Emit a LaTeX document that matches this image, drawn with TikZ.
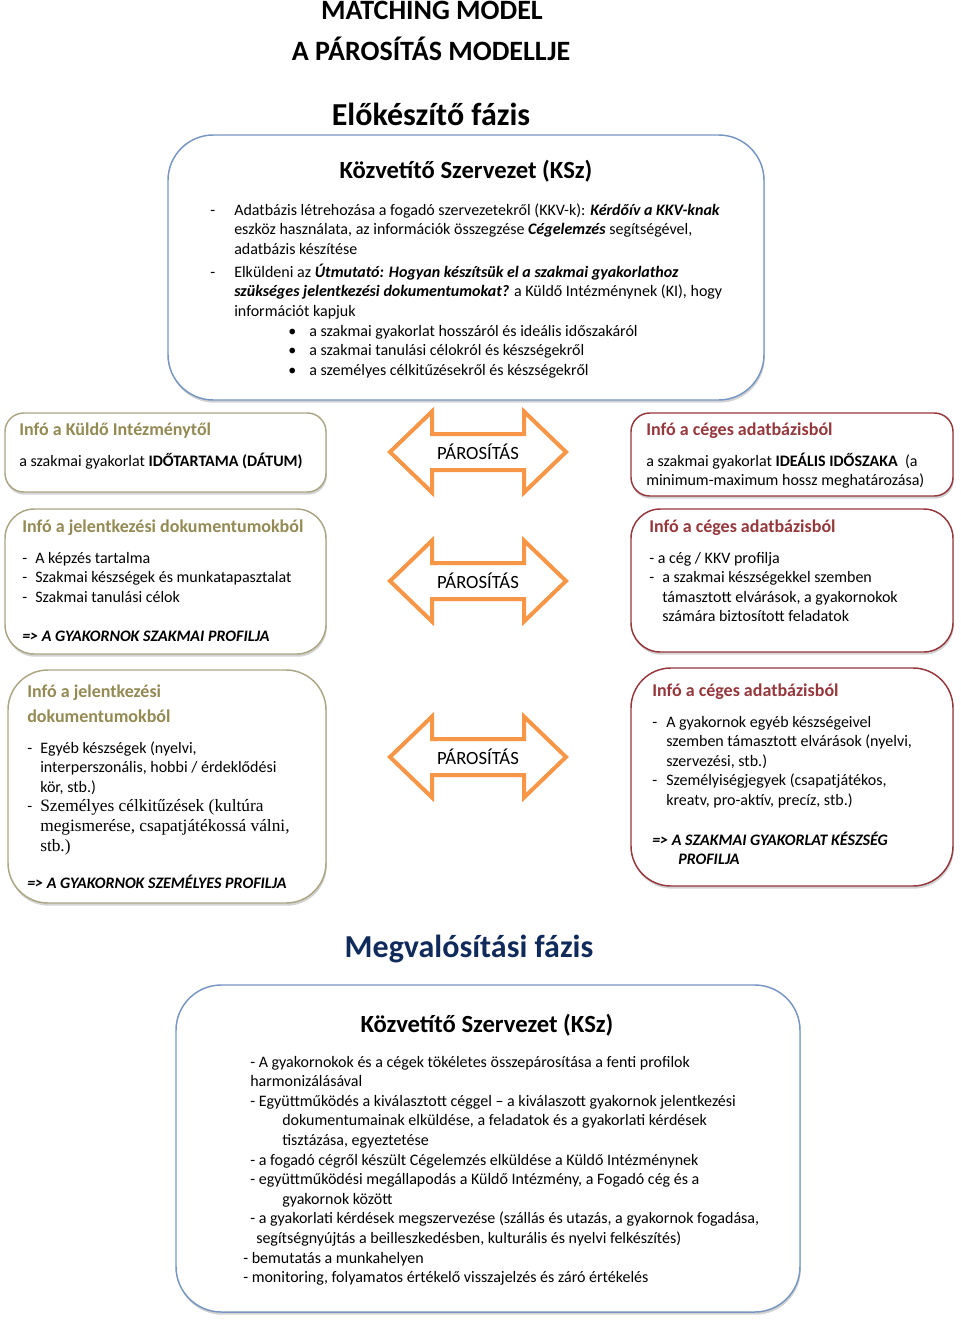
\documentclass[tikz,border=0pt]{standalone}
\usepackage{fontspec}
\setmainfont{Carlito}
\newfontfamily\serifpart{Liberation Serif}
\usetikzlibrary{shadows,fit}
\definecolor{kszblue}{RGB}{120,150,195}
\definecolor{olivetext}{RGB}{148,138,84}
\definecolor{oliveline}{RGB}{172,166,132}
\definecolor{redline}{RGB}{150,55,60}
\definecolor{matchorange}{RGB}{247,150,70}
\definecolor{phasenavy}{RGB}{16,42,92}
\newcommand{\bodysize}{\fontsize{12}{14.7}\selectfont}
\newcommand{\txtlines}[1]{\begin{tabular}[t]{@{}l@{}}#1\end{tabular}}
\newcommand{\dsh}[1]{\makebox[#1][l]{-}}
\tikzset{
  infobox/.style={rounded corners=#1, line width=1.1pt, fill=white, inner sep=0pt,
    drop shadow={shadow xshift=0.6pt, shadow yshift=-2pt, opacity=0.35}},
  kszbox/.style={infobox=34pt, draw=kszblue},
  studbox/.style={infobox=#1, draw=oliveline},
  firmbox/.style={infobox=#1, draw=redline},
  txt/.style={anchor=base west, inner sep=0pt, font=\bodysize},
  boxhead/.style={anchor=base west, inner sep=0pt, font=\fontsize{13.5}{18.75}\selectfont\bfseries},
  kszhead/.style={anchor=base, inner sep=0pt, font=\fontsize{18.5}{22}\selectfont\bfseries},
  matcharrow/.style={draw=matchorange, line width=3pt, fill=white},
  matchtext/.style={inner sep=0pt, font=\fontsize{14}{17}\selectfont}
}
\begin{document}
\begin{tikzpicture}[x=0.75pt, y=-0.75pt]
    \useasboundingbox (0,0) rectangle (960,1320);
    \node[anchor=base, font=\fontsize{21}{25}\selectfont\bfseries] (title) at (432,20) {MATCHING MODEL};
    \node[anchor=base, font=\fontsize{21}{25}\selectfont\bfseries] (subtitle) at (431,61) {A PÁROSÍTÁS MODELLJE};
    \node[anchor=base, font=\fontsize{24}{29}\selectfont\bfseries] (prepphase) at (431,125) {Előkészítő fázis};

    \node[kszbox, fit={(168,135) (764,400)}] (prepbox) {};
    \node[kszhead] (prephead) at (466,178) {Közvetítő Szervezet (KSz)};
    \node[txt] (preptasks) at (210,215) {\txtlines{%
      \dsh{18pt}Adatbázis létrehozása a fogadó szervezetekről (KKV-k): \textbf{\textit{Kérdőív a KKV-knak}}\\
      \hspace*{18pt}eszköz használata, az információk összegzése \textbf{\textit{Cégelemzés}} segítségével,\\
      \hspace*{18pt}adatbázis készítése\\[2.5pt]
      \dsh{18pt}Elküldeni az \textbf{\textit{Útmutató: Hogyan készítsük el a szakmai gyakorlathoz}}\\
      \hspace*{18pt}\textbf{\textit{szükséges jelentkezési dokumentumokat?}} a Küldő Intézménynek (KI), hogy\\
      \hspace*{18pt}információt kapjuk}};
    \node[txt] (prepbullets) at (288,336) {\txtlines{%
      \makebox[15.75pt][l]{•}a szakmai gyakorlat hosszáról és ideális időszakáról\\
      \makebox[15.75pt][l]{•}a szakmai tanulási célokról és készségekről\\
      \makebox[15.75pt][l]{•}a személyes célkitűzésekről és készségekről}};

    \node[studbox=14pt, fit={(5,413) (326,492)}] (sendbox) {};
    \node[boxhead, text=olivetext] (sendhead) at (19,435) {Infó a Küldő Intézménytől};
    \node[txt] (sendtext) at (19,466) {a szakmai gyakorlat \textbf{IDŐTARTAMA (DÁTUM)}};

    \node[firmbox=14pt, fit={(631,413) (953,496)}] (datebox) {};
    \node[boxhead, text=redline] (datehead) at (646,435) {Infó a céges adatbázisból};
    \node[txt] (datetext) at (646,466) {\txtlines{%
      a szakmai gyakorlat \textbf{IDEÁLIS IDŐSZAKA}\ \ (a\\
      minimum-maximum hossz meghatározása)}};

    \node[studbox=22pt, fit={(5,509) (326,654)}] (skillbox) {};
    \node[boxhead, text=olivetext] (skillhead) at (22,532) {Infó a jelentkezési dokumentumokból};
    \node[txt] (skilltext) at (22,563) {\txtlines{%
      \dsh{9.75pt}A képzés tartalma\\
      \dsh{9.75pt}Szakmai készségek és munkatapasztalat\\
      \dsh{9.75pt}Szakmai tanulási célok}};
    \node[txt, font=\bodysize\bfseries\itshape] (skillprofile) at (22,641) {=> A GYAKORNOK SZAKMAI PROFILJA};

    \node[firmbox=22pt, fit={(631,509) (953,652)}] (taskbox) {};
    \node[boxhead, text=redline] (taskhead) at (649,532) {Infó a céges adatbázisból};
    \node[txt] (tasktext) at (649,563) {\txtlines{%
      - a cég / KKV profilja\\
      \dsh{9.75pt}a szakmai készségekkel szemben\\
      \hspace*{9.75pt}támasztott elvárások, a gyakornokok\\
      \hspace*{9.75pt}számára biztosított feladatok}};

    \node[studbox=30pt, fit={(8,670) (326,903)}] (persbox) {};
    \node[boxhead, text=olivetext] (pershead) at (27,697) {\txtlines{Infó a jelentkezési\\dokumentumokból}};
    \node[txt] (perstext) at (27,753) {\txtlines{%
      \dsh{9.75pt}Egyéb készségek (nyelvi,\\
      \hspace*{9.75pt}interperszonális, hobbi / érdeklődési\\
      \hspace*{9.75pt}kör, stb.)\\
      \dsh{9.75pt}{\serifpart\fontsize{13}{14.7}\selectfont Személyes célkitűzések (kultúra}\\
      \hspace*{9.75pt}{\serifpart\fontsize{13}{14.7}\selectfont megismerése, csapatjátékossá válni,}\\
      \hspace*{9.75pt}{\serifpart\fontsize{13}{14.7}\selectfont stb.)}}};
    \node[txt, font=\bodysize\bfseries\itshape] (persprofile) at (27,888) {=> A GYAKORNOK SZEMÉLYES PROFILJA};

    \node[firmbox=30pt, fit={(631,668) (953,886)}] (expectbox) {};
    \node[boxhead, text=redline] (expecthead) at (652,696) {Infó a céges adatbázisból};
    \node[txt] (expecttext) at (652,727) {\txtlines{%
      \dsh{10.5pt}A gyakornok egyéb készségeivel\\
      \hspace*{10.5pt}szemben támasztott elvárások (nyelvi,\\
      \hspace*{10.5pt}szervezési, stb.)\\
      \dsh{10.5pt}Személyiségjegyek (csapatjátékos,\\
      \hspace*{10.5pt}kreatv, pro-aktív, precíz, stb.)}};
    \node[txt, font=\bodysize\bfseries\itshape] (expectprofile) at (652,845) {\txtlines{%
      => A SZAKMAI GYAKORLAT KÉSZSÉG\\
      \hspace*{19.5pt}PROFILJA}};

    \foreach \cy [count=\i] in {452,581,757} {
      \draw[matcharrow] (390,\cy) -- ++(42,-40.5) -- ++(0,22.5) -- ++(92,0) -- ++(0,-22.5)
        -- ++(42,40.5) -- ++(-42,40.5) -- ++(0,-22.5) -- ++(-92,0) -- ++(0,22.5) -- cycle;
      \node[matchtext] (match\i) at (478,\cy) {PÁROSÍTÁS};
    }

    \node[anchor=base, font=\fontsize{24}{29}\selectfont\bfseries, text=phasenavy] (implphase) at (469,957) {Megvalósítási fázis};
    \node[kszbox, fit={(176,985) (800,1312)}] (implbox) {};
    \node[kszhead] (implhead) at (487,1032) {Közvetítő Szervezet (KSz)};
    \node[txt] (impltasks) at (243,1067) {\txtlines{%
      \hspace*{5.25pt}- A gyakornokok és a cégek tökéletes összepárosítása a fenti profilok\\
      \hspace*{5.25pt}harmonizálásával\\
      \hspace*{5.25pt}- Együttműködés a kiválasztott céggel – a kiválaszott gyakornok jelentkezési\\
      \hspace*{29.25pt}dokumentumainak elküldése, a feladatok és a gyakorlati kérdések\\
      \hspace*{29.25pt}tisztázása, egyeztetése\\
      \hspace*{5.25pt}- a fogadó cégről készült Cégelemzés elküldése a Küldő Intézménynek\\
      \hspace*{5.25pt}- együttműködési megállapodás a Küldő Intézmény, a Fogadó cég és a\\
      \hspace*{29.25pt}gyakornok között\\
      \hspace*{5.25pt}- a gyakorlati kérdések megszervezése (szállás és utazás, a gyakornok fogadása,\\
      \hspace*{9.75pt}segítségnyújtás a beilleszkedésben, kulturális és nyelvi felkészítés)\\
      - bemutatás a munkahelyen\\
      - monitoring, folyamatos értékelő visszajelzés és záró értékelés}};
\end{tikzpicture}
\end{document}
